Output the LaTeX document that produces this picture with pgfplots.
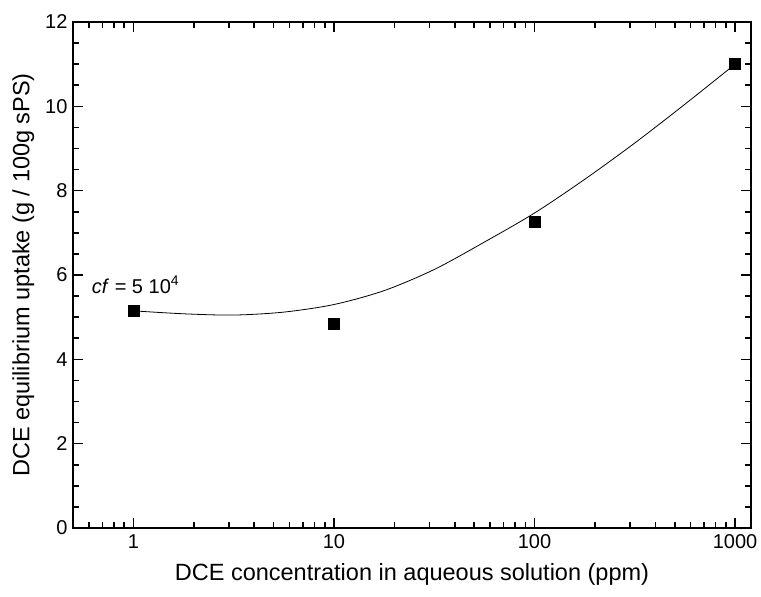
\documentclass[border=0pt]{standalone}
\usepackage{pgfplots}
\pgfplotsset{compat=1.18}
\usepackage{fontspec}
\setmainfont{Liberation Sans}

\begin{document}
\begin{tikzpicture}
\useasboundingbox (0,0) rectangle (761pt,597pt);
\begin{axis}[
  at={(73pt,69pt)}, anchor=south west,
  scale only axis,
  width=678pt, height=506pt,
  xmode=log, log basis x=10,
  xmin=0.5, xmax=1200,
  ymin=0, ymax=12,
  xtick={1,10,100,1000},
  xticklabels={1,10,100,1000},
  minor xtick={0.6,0.7,0.8,0.9,2,3,4,5,6,7,8,9,20,30,40,50,60,70,80,90,
               200,300,400,500,600,700,800,900},
  ytick={0,2,4,6,8,10,12},
  minor y tick num=3,
  tick align=inside,
  major tick length=10pt,
  minor tick length=6pt,
  every tick/.style={line width=1.6pt, black},
  axis line style={line width=1.6pt},
  /pgf/number format/assume math mode=true,
  ticklabel style={font=\fontsize{20}{24}\selectfont},
  xticklabel style={yshift=-3pt},
  yticklabel style={xshift=-2pt},
  label style={font=\fontsize{23.5}{28}\selectfont},
  xlabel={DCE concentration in aqueous solution (ppm)},
  ylabel={DCE equilibrium uptake (g / 100g sPS)},
  xlabel style={yshift=-8pt},
  ylabel style={yshift=4pt},
  clip=false,
]
% model curve
\addplot[black, line width=0.8pt, smooth] coordinates {
  (1,5.15) (1.78,5.08) (3.16,5.05) (5.62,5.12) (10,5.30) (17.8,5.63)
  (31.6,6.13) (56.2,6.78) (100,7.47) (178,8.27) (316,9.13) (562,10.05)
  (1000,11.0)
};
% measured uptake
\addplot[only marks, mark=square*, mark size=5.5pt, black] coordinates {
  (1,5.15) (10,4.85) (100,7.26) (1000,11.02)
};
\node[anchor=base west, font=\fontsize{20}{24}\selectfont, inner sep=0pt]
  at (axis cs:0.62,5.57) {\textit{cf} = 5 10\textsuperscript{4}};
\end{axis}
\end{tikzpicture}
\end{document}
